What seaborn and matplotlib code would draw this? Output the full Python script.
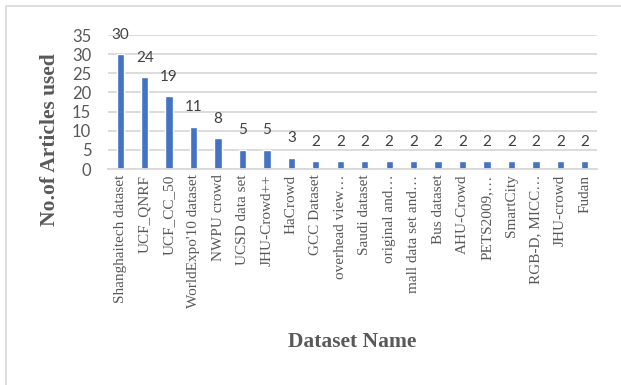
import matplotlib
matplotlib.use("Agg")
import matplotlib.pyplot as plt
import seaborn as sns
import pandas as pd
from matplotlib.patches import Rectangle

datasets = [
    "Shanghaitech dataset", "UCF_QNRF", "UCF_CC_50", "WorldExpo'10 dataset",
    "NWPU crowd", "UCSD data set", "JHU-Crowd++", "HaCrowd", "GCC Dataset",
    "overhead view…", "Saudi dataset", "original and…", "mall data set and…",
    "Bus dataset", "AHU-Crowd", "PETS2009,…", "SmartCity", "RGB-D, MICC…",
    "JHU-crowd", "Fudan",
]
articles = [30, 24, 19, 11, 8, 5, 5, 3, 2, 2, 2, 2, 2, 2, 2, 2, 2, 2, 2, 2]
y_ticks = [0, 5, 10, 15, 20, 25, 30, 35]

df = pd.DataFrame({"Dataset": datasets, "Articles": articles})

sns.set_style("white")
fig = plt.figure(figsize=(6.21, 3.85), dpi=100)
ax = fig.add_axes([108 / 621, 1 - 169 / 385, 489 / 621, 134 / 385])

sns.barplot(data=df, x="Dataset", y="Articles", color="#4472C4",
            width=0.3, saturation=1, ax=ax)

ax.set_ylim(0, 35)
ax.set_xlim(-0.5, len(datasets) - 0.5)
ax.yaxis.grid(True, color="#d9d9d9", linewidth=1.3)
ax.set_axisbelow(True)
for side in ["top", "right", "left"]:
    ax.spines[side].set_visible(False)
ax.spines["bottom"].set_color("#d9d9d9")
ax.spines["bottom"].set_linewidth(1.3)
ax.tick_params(length=0)
ax.set_xlabel("")
ax.set_ylabel("")

ax.set_yticks(y_ticks)
ax.set_yticklabels([str(t) for t in y_ticks], fontfamily="Lato",
                   fontsize=12, color="#595959")
ax.tick_params(axis="y", pad=12)
ax.set_xticks(range(len(datasets)))
ax.set_xticklabels(datasets, rotation=90, fontfamily="Liberation Serif",
                   fontsize=11, color="#595959")
ax.tick_params(axis="x", pad=4)

for i, v in enumerate(articles):
    ax.annotate(str(v), xy=(i, v), xytext=(0, 14), textcoords="offset points",
                ha="center", va="center", fontfamily="Lato", fontsize=11,
                color="#404040")

fig.text(50 / 621, 1 - 140 / 385, "No.of Articles used", rotation=90,
         ha="center", va="center", fontfamily="Liberation Serif",
         fontweight="bold", fontsize=15.5, color="#595959")
fig.text(352 / 621, 1 - 342 / 385, "Dataset Name", ha="center", va="center",
         fontfamily="Liberation Serif", fontweight="bold", fontsize=15.5,
         color="#595959")

fig.patches.append(Rectangle((6 / 621, -0.1), 1.2, 1 - 6 / 385 + 0.1,
                             transform=fig.transFigure, fill=False,
                             edgecolor="#d9d9d9", linewidth=1.2))

fig.savefig("out.png", dpi=100)
